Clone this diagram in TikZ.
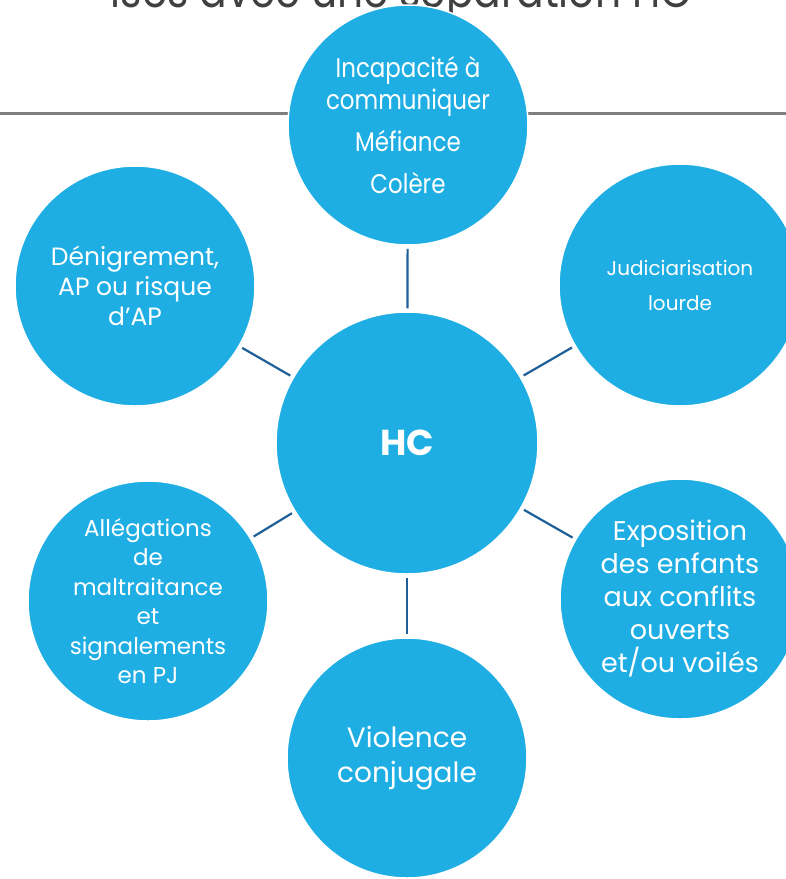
\documentclass[tikz,border=0pt]{standalone}
\usepackage{fontspec}
\setmainfont{Poppins}
\newfontfamily\condfont{Poppins}[FakeStretch=0.85]
\definecolor{bub}{HTML}{1FAEE3}
\definecolor{conn}{HTML}{1F5F99}
\definecolor{rule}{HTML}{7F7F7F}
\definecolor{title}{HTML}{404040}
\begin{document}
\begin{tikzpicture}[x=1pt,y=-1pt,
  bubble/.style={circle,fill=bub,draw=white,line width=1.5pt,inner sep=0pt,
    minimum size=#1,align=center,text=white},
  link/.style={draw=conn,line width=2.2pt,shorten <=3pt,shorten >=3pt}]
\useasboundingbox (0,0) rectangle (786,879);
\begin{scope}
\clip (0,0) rectangle (786,879);
\node[anchor=base east,text=title,font=\condfont\fontsize{48}{50}\selectfont,inner sep=0pt] (ttl) at (692,7) {ises avec une séparation HC};
\end{scope}
\coordinate (rl) at (0,113);
\coordinate (rr) at (786,113);
\draw[rule,line width=3pt] (rl) -- (rr);
\node[bubble=262pt,font=\bfseries\fontsize{36}{40}\selectfont] (hc) at (407,443) {HC};
\node[bubble=240pt,font=\condfont\fontsize{27}{32}\selectfont] (top) at (408,125) {Incapacité à\\communiquer\\[10pt]Méfiance\\[10pt]Colère};
\node[bubble=240pt,font=\fontsize{25}{30}\selectfont] (tl) at (135,286) {Dénigrement,\\AP ou risque\\d’AP};
\node[bubble=242pt,font=\fontsize{20}{35}\selectfont] (tr) at (680,285) {Judiciarisation\\lourde};
\node[bubble=240pt,font=\fontsize{23}{29.5}\selectfont] (bl) at (148,601) {Allégations\\de\\maltraitance\\et\\signalements\\en PJ};
\node[bubble=240pt,font=\fontsize{27}{33}\selectfont] (br) at (680,599) {Exposition\\des enfants\\aux conflits\\ouverts\\et/ou voilés};
\node[bubble=240pt,font=\fontsize{28}{35}\selectfont] (bot) at (407,758) {Violence\\conjugale};
\draw[link] (hc) -- (top);
\draw[link] (hc) -- (tl);
\draw[link] (hc) -- (tr);
\draw[link] (hc) -- (bl);
\draw[link] (hc) -- (br);
\draw[link] (hc) -- (bot);
\end{tikzpicture}
\end{document}
